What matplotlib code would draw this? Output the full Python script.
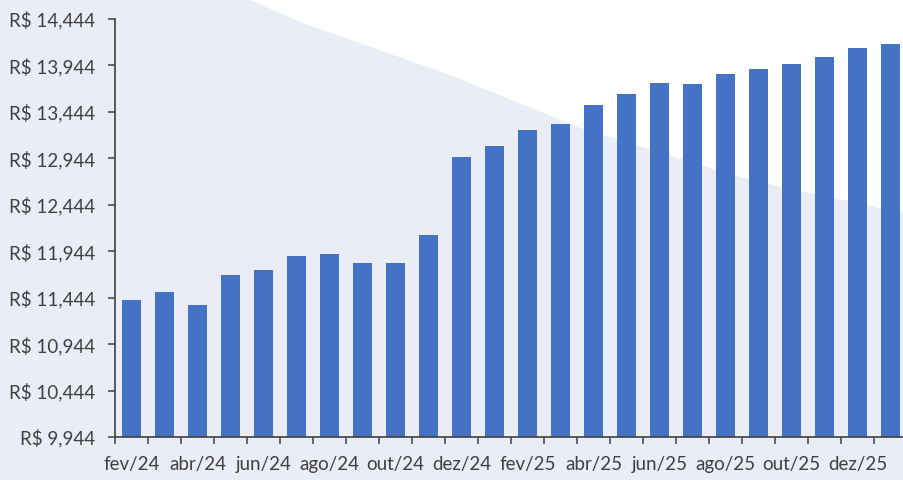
import numpy as np
import matplotlib.pyplot as plt
from matplotlib.patches import Polygon

# Data
months = ['fev/24', 'mar/24', 'abr/24', 'mai/24', 'jun/24', 'jul/24',
          'ago/24', 'set/24', 'out/24', 'nov/24', 'dez/24', 'jan/25',
          'fev/25', 'mar/25', 'abr/25', 'mai/25', 'jun/25', 'jul/25',
          'ago/25', 'set/25', 'out/25', 'nov/25', 'dez/25', 'jan/26']
values = [11424, 11500, 11370, 11683, 11747, 11894,
          11912, 11819, 11812, 12120, 12954, 13079,
          13245, 13313, 13514, 13633, 13751, 13747,
          13848, 13902, 13959, 14031, 14128, 14175]
y_ticks = np.arange(9944, 14445, 500)

plt.rcParams['font.family'] = ['Lato', 'DejaVu Sans']
text_color = '#404040'

fig = plt.figure(figsize=(9.04, 4.8), dpi=100)
fig.patch.set_facecolor('#eaedf5')

# white swoosh in background
bg = fig.add_axes([0, 0, 1, 1], zorder=0)
bg.set_xlim(0, 904)
bg.set_ylim(480, 0)
bg.axis('off')
bg.add_patch(Polygon([(250, 0), (300, 22), (450, 75), (580, 128), (750, 180),
                      (904, 213), (904, 0)], closed=True,
                     facecolor='white', edgecolor='none', alpha=0.95))

ax = fig.add_axes([115 / 904, 43 / 480, 792 / 904, 418 / 480], zorder=1)
ax.patch.set_alpha(0)

x = np.arange(len(months))
ax.bar(x, values, width=0.58, color='#4472c4')

ax.set_xlim(-0.5, len(months) - 0.5)
ax.set_ylim(9944, 14444)
ax.set_yticks(y_ticks)
ax.set_yticklabels([f'R$ {v:,}' for v in y_ticks])

ax.set_xticks(x[::2])
ax.set_xticklabels(months[::2])
ax.set_xticks(np.arange(-0.5, len(months)), minor=True)

for s in ['top', 'right']:
    ax.spines[s].set_visible(False)
for s in ['left', 'bottom']:
    ax.spines[s].set_color(text_color)
    ax.spines[s].set_linewidth(1.2)

ax.tick_params(axis='y', length=5, width=1.1, color=text_color,
               labelsize=13.5, labelcolor=text_color, pad=9)
ax.tick_params(axis='x', which='major', length=0, labelsize=13.5,
               labelcolor=text_color, pad=14)
ax.tick_params(axis='x', which='minor', length=5, width=1.1, color=text_color)

fig.savefig('out.png', dpi=100, facecolor=fig.get_facecolor())
